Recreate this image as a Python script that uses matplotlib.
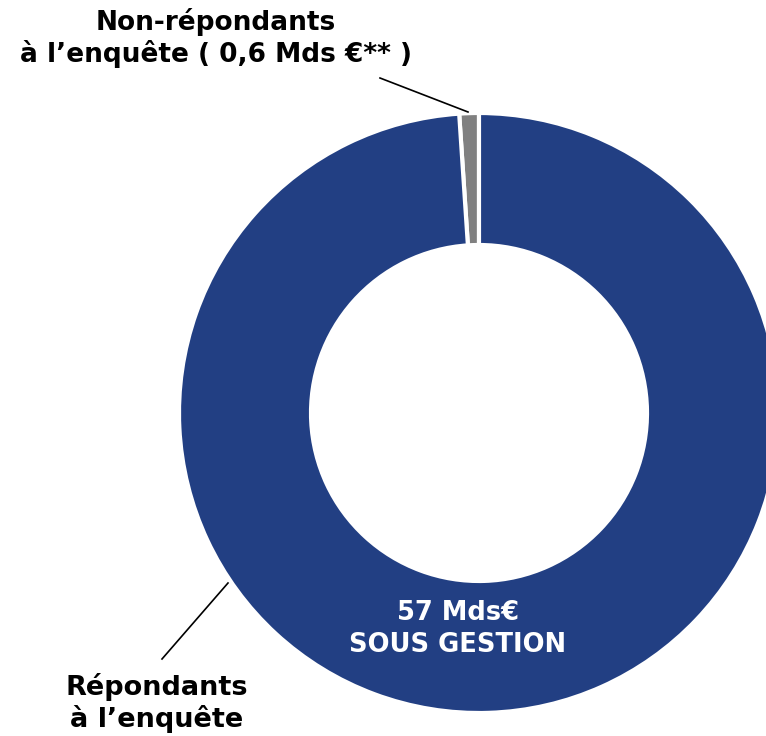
import matplotlib
matplotlib.use("Agg")
import matplotlib.pyplot as plt

labels = ["Non-répondants\nà l’enquête ( 0,6 Mds €** )", "Répondants\nà l’enquête"]
values = [0.6, 56.4]
colors = ["#808080", "#223F83"]
center_text = "57 Mds€\nSOUS GESTION"

W, H = 766, 736
fig = plt.figure(figsize=(W / 100, H / 100), dpi=100)
cx, cy, R = 479, 413, 300
ax = fig.add_axes([(cx - R) / W, 1 - (cy + R) / H, 2 * R / W, 2 * R / H])
wedges, _ = ax.pie(values, colors=colors, startangle=90, counterclock=True,
                   radius=1.0,
                   wedgeprops=dict(width=0.44, edgecolor="white", linewidth=3))
for w in wedges:
    w.set_clip_on(False)
ax.set_xlim(-1, 1)
ax.set_ylim(-1, 1)
ax.set_aspect("equal")
ax.axis("off")

def px(x, y):
    return x / W, 1 - y / H

fam = ["DejaVu Sans"]
fig.text(*px(216, 38), labels[0], ha="center", va="center", fontsize=19,
         fontweight="bold", family=fam, linespacing=1.15, color="black")
fig.text(*px(157, 703), labels[1], ha="center", va="center", fontsize=19.5,
         fontweight="bold", family=fam, linespacing=1.15, color="black")
fig.text(*px(458, 629), center_text, ha="center", va="center", fontsize=18.5,
         fontweight="bold", family=fam, linespacing=1.25, color="white")

fig.add_artist(plt.Line2D([380 / W, 468 / W], [1 - 78 / H, 1 - 112 / H],
                          color="black", lw=1.2))
fig.add_artist(plt.Line2D([162 / W, 228 / W], [1 - 659 / H, 1 - 583 / H],
                          color="black", lw=1.2))

fig.savefig("out.png", dpi=100)
